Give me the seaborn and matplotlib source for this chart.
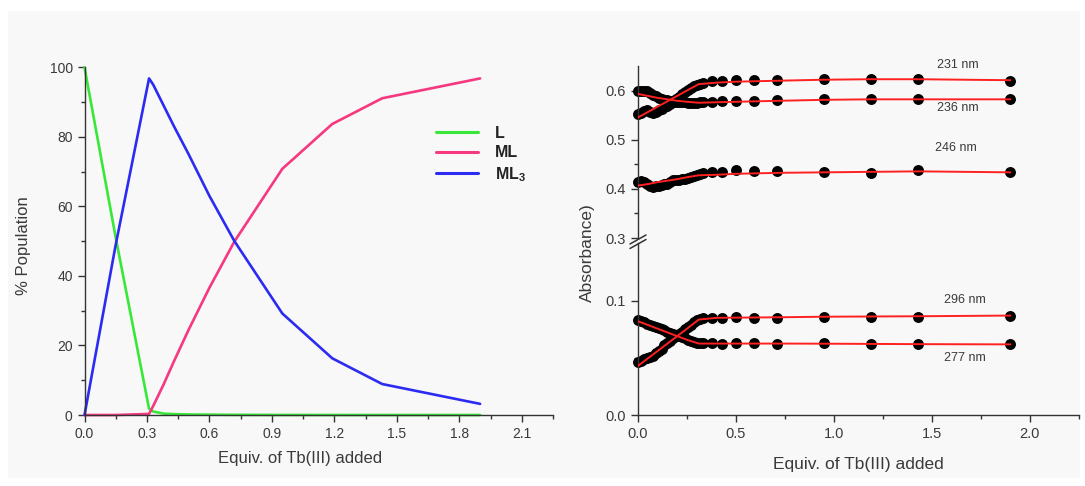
import numpy as np
import pandas as pd
import matplotlib
matplotlib.use("Agg")
import matplotlib.pyplot as plt
from matplotlib.ticker import MultipleLocator, FixedLocator
from matplotlib.patches import Rectangle
from matplotlib.lines import Line2D
import seaborn as sns

# ---------------- data: left panel (species distribution) ----------------
x_pop = [0.0, 0.15, 0.31, 0.33, 0.38, 0.43, 0.50, 0.60, 0.72, 0.95, 1.19, 1.43, 1.90]
pop_L = [100.0, 51.0, 1.8, 1.0, 0.4, 0.25, 0.15, 0.1, 0.05, 0.02, 0.01, 0.0, 0.0]
pop_ML = [0.0, 0.0, 0.3, 2.6, 8.8, 15.5, 24.5, 36.6, 49.9, 70.8, 83.7, 91.1, 96.8]
pop_ML3 = [0.0, 49.0, 96.8, 95.0, 89.0, 83.0, 75.0, 63.0, 50.0, 29.2, 16.3, 8.9, 3.2]
species = ["L", "ML", "ML3"]
species_labels = ["L", "ML", r"ML$_\mathbf{3}$"]

# ---------------- data: right panel (absorbance titration) ----------------
x_abs = [0.0, 0.015, 0.03, 0.045, 0.06, 0.075, 0.09, 0.105, 0.12, 0.135, 0.15,
         0.165, 0.18, 0.195, 0.21, 0.225, 0.24, 0.255, 0.27, 0.285, 0.30, 0.315,
         0.33, 0.38, 0.43, 0.50, 0.59, 0.71, 0.95, 1.19, 1.43, 1.90]
abs_231 = [0.553, 0.556, 0.560, 0.562, 0.557, 0.555, 0.558, 0.561, 0.564, 0.567,
           0.570, 0.574, 0.578, 0.583, 0.588, 0.593, 0.598, 0.602, 0.606, 0.610,
           0.613, 0.615, 0.617, 0.620, 0.621, 0.623, 0.623, 0.622, 0.624, 0.624,
           0.624, 0.621]
abs_236 = [0.600, 0.601, 0.600, 0.599, 0.596, 0.592, 0.589, 0.586, 0.584, 0.582,
           0.581, 0.580, 0.579, 0.578, 0.578, 0.577, 0.577, 0.576, 0.576, 0.576,
           0.576, 0.577, 0.577, 0.578, 0.580, 0.580, 0.580, 0.582, 0.583, 0.584,
           0.584, 0.583]
abs_246 = [0.415, 0.416, 0.414, 0.410, 0.406, 0.405, 0.406, 0.407, 0.408, 0.410,
           0.411, 0.414, 0.418, 0.419, 0.418, 0.420, 0.421, 0.423, 0.425, 0.427,
           0.428, 0.430, 0.432, 0.435, 0.434, 0.438, 0.436, 0.436, 0.434, 0.432,
           0.438, 0.434]
abs_296 = [0.046, 0.047, 0.049, 0.050, 0.051, 0.052, 0.054, 0.056, 0.058, 0.061,
           0.063, 0.065, 0.067, 0.069, 0.071, 0.073, 0.075, 0.077, 0.079, 0.081,
           0.083, 0.084, 0.085, 0.085, 0.085, 0.086, 0.085, 0.085, 0.086, 0.086,
           0.086, 0.087]
abs_277 = [0.083, 0.082, 0.081, 0.080, 0.079, 0.078, 0.077, 0.076, 0.075, 0.074,
           0.073, 0.072, 0.071, 0.070, 0.069, 0.068, 0.067, 0.066, 0.065, 0.064,
           0.063, 0.063, 0.063, 0.063, 0.062, 0.063, 0.063, 0.062, 0.063, 0.062,
           0.062, 0.062]

x_fit = [0.0, 0.05, 0.10, 0.15, 0.20, 0.25, 0.31, 0.40, 0.50, 0.72, 0.95, 1.19, 1.43, 1.90]
fit_231 = [0.546, 0.557, 0.568, 0.579, 0.590, 0.601, 0.614, 0.617, 0.619, 0.621, 0.623, 0.624, 0.624, 0.622]
fit_236 = [0.594, 0.590, 0.586, 0.583, 0.580, 0.578, 0.576, 0.577, 0.578, 0.580, 0.582, 0.583, 0.583, 0.583]
fit_246 = [0.407, 0.410, 0.414, 0.417, 0.420, 0.424, 0.428, 0.429, 0.431, 0.433, 0.434, 0.435, 0.436, 0.434]
fit_296 = [0.043, 0.0495, 0.056, 0.0625, 0.069, 0.0755, 0.0835, 0.085, 0.0852, 0.0855, 0.086, 0.0862, 0.0864, 0.087]
fit_277 = [0.082, 0.0788, 0.0755, 0.0723, 0.069, 0.0658, 0.0625, 0.0625, 0.0625, 0.0625, 0.0624, 0.0622, 0.0620, 0.0618]

wave_labels = ["231 nm", "236 nm", "246 nm", "296 nm", "277 nm"]
label_x = [1.63, 1.63, 1.62, 1.67, 1.67]
label_y = [0.653, 0.565, 0.483, 0.101, 0.050]

# ---------------- style ----------------
sns.set_theme(style="ticks")
plt.rcParams["font.family"] = ["Liberation Sans", "DejaVu Sans"]
plt.rcParams["mathtext.fontset"] = "custom"
plt.rcParams["mathtext.bf"] = "Liberation Sans:bold"
plt.rcParams["mathtext.rm"] = "Liberation Sans"

TXT = "#3a3a3a"
SP = "#333333"

W, H = 1085, 486
fig = plt.figure(figsize=(W / 100, H / 100), dpi=100, facecolor="white")
fig.patches.append(Rectangle((8 / W, 1 - 478 / H), (1080 - 8) / W, (478 - 11) / H,
                             transform=fig.transFigure, facecolor="#f8f8f8",
                             edgecolor="none", zorder=-10))

def fx(px):
    return px / W

def fy(py):
    return 1 - py / H

def style_ax(ax, bottom=True):
    ax.set_facecolor("none")
    for s in ["top", "right"]:
        ax.spines[s].set_visible(False)
    ax.spines["left"].set_color(SP)
    ax.spines["bottom"].set_color(SP)
    ax.spines["left"].set_linewidth(1.0)
    ax.spines["bottom"].set_linewidth(1.0)
    if not bottom:
        ax.spines["bottom"].set_visible(False)
    ax.tick_params(which="major", direction="out", length=5, width=1.0, color=SP,
                   labelcolor=TXT)
    ax.tick_params(which="minor", direction="out", length=3, width=1.0, color=SP)
    ax.set_xlabel("")
    ax.set_ylabel("")

# ---------------- left panel ----------------
axL = fig.add_axes([fx(84.5), fy(415), fx(553 - 84.5), (415 - 67.3) / H])
df_pop = pd.DataFrame({"x": x_pop * 3,
                       "pop": pop_L + pop_ML + pop_ML3,
                       "species": [species[0]] * len(x_pop) + [species[1]] * len(x_pop)
                                  + [species[2]] * len(x_pop)})
palette = {"L": "#38e838", "ML": "#f5387f", "ML3": "#2b2bf2"}
sns.lineplot(data=df_pop, x="x", y="pop", hue="species", palette=palette,
             linewidth=1.9, ax=axL, legend=False, sort=False)
axL.set_xlim(0, 2.25)
axL.set_ylim(0, 100)
axL.xaxis.set_major_locator(FixedLocator([0.0, 0.3, 0.6, 0.9, 1.2, 1.5, 1.8, 2.1]))
axL.xaxis.set_minor_locator(FixedLocator([0.15, 0.45, 0.75, 1.05, 1.35, 1.65, 1.95, 2.25]))
axL.yaxis.set_major_locator(MultipleLocator(20))
axL.yaxis.set_minor_locator(MultipleLocator(10))
axL.set_xticklabels(["0.0", "0.3", "0.6", "0.9", "1.2", "1.5", "1.8", "2.1"])
style_ax(axL)
axL.tick_params(labelsize=10)
for l in axL.get_lines():
    l.set_clip_on(False)

handles = [Line2D([], [], color=palette[s], lw=2.2) for s in species]
leg = fig.legend(handles, species_labels, loc="upper left",
                 bbox_to_anchor=(fx(436), fy(126)), frameon=False, borderpad=0,
                 borderaxespad=0, handlelength=2.6, handletextpad=1.1,
                 labelspacing=0.28, prop={"size": 11.5, "weight": "bold"})
for t in leg.get_texts():
    t.set_color("#222222")

fig.text(fx(300), fy(458), "Equiv. of Tb(III) added", ha="center", va="center",
         fontsize=12, color=TXT)
fig.text(fx(24), fy(246), "% Population", ha="center", va="center",
         rotation=90, fontsize=12, color=TXT)

# ---------------- right panel (broken y axis) ----------------
x0r, x1r = 638.0, 1078.9
axU = fig.add_axes([fx(x0r), fy(238), fx(x1r - x0r), (238 - 66) / H])
axB = fig.add_axes([fx(x0r), fy(415), fx(x1r - x0r), (415 - 243) / H])

upper_series = [(abs_231, fit_231), (abs_236, fit_236), (abs_246, fit_246)]
lower_series = [(abs_296, fit_296), (abs_277, fit_277)]

for ax, series in [(axU, upper_series), (axB, lower_series)]:
    for dots, fit in series:
        sns.scatterplot(x=x_abs, y=dots, color="black", s=62, linewidth=0,
                        ax=ax, zorder=2, clip_on=False)
        sns.lineplot(x=x_fit, y=fit, color="#ff2020", linewidth=1.4, ax=ax,
                     zorder=3, sort=False)

axU.set_xlim(0, 2.25)
axB.set_xlim(0, 2.25)
axU.set_ylim(0.3, 0.651)
axB.set_ylim(0.0, 0.1505)
axU.yaxis.set_major_locator(FixedLocator([0.3, 0.4, 0.5, 0.6]))
axU.yaxis.set_minor_locator(FixedLocator([0.35, 0.45, 0.55]))
axU.set_yticklabels(["0.3", "0.4", "0.5", "0.6"])
axB.yaxis.set_major_locator(FixedLocator([0.0, 0.1]))
axB.yaxis.set_minor_locator(FixedLocator([0.05]))
axB.set_yticklabels(["0.0", "0.1"])
axB.xaxis.set_major_locator(FixedLocator([0.0, 0.5, 1.0, 1.5, 2.0]))
axB.xaxis.set_minor_locator(FixedLocator([0.25, 0.75, 1.25, 1.75, 2.25]))
axB.set_xticklabels(["0.0", "0.5", "1.0", "1.5", "2.0"])
style_ax(axU, bottom=False)
style_ax(axB)
axU.tick_params(axis="x", which="both", bottom=False, labelbottom=False)
axU.tick_params(labelsize=10.5)
axB.tick_params(labelsize=10.5)

for ax, names, xs, ys in [(axU, wave_labels[:3], label_x[:3], label_y[:3]),
                          (axB, wave_labels[3:], label_x[3:], label_y[3:])]:
    for n, xx, yy in zip(names, xs, ys):
        ax.text(xx, yy, n, ha="center", va="center", fontsize=9, color=TXT,
                clip_on=False)

# axis break marks
for dy in (0, 4.5):
    fig.add_artist(Line2D([fx(630), fx(646)], [fy(244 + dy), fy(235 + dy)],
                          color=SP, lw=1.1, transform=fig.transFigure))

fig.text(fx(858), fy(464), "Equiv. of Tb(III) added", ha="center", va="center",
         fontsize=12.5, color=TXT)
fig.text(fx(587), fy(253), "Absorbance)", ha="center", va="center",
         rotation=90, fontsize=12.5, color=TXT)

fig.savefig("out.png", dpi=100, facecolor="white")
